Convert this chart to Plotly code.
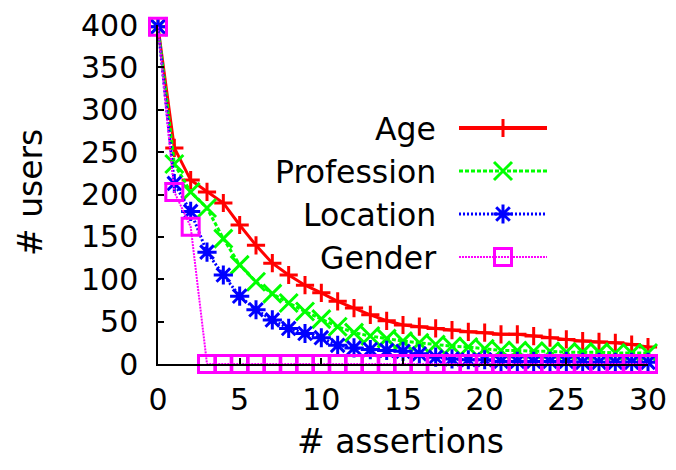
import plotly.graph_objects as go

# ---- data -------------------------------------------------------------
assertions = [0, 1, 2, 3, 4, 5, 6, 7, 8, 9, 10, 11, 12, 13, 14, 15,
              16, 17, 18, 19, 20, 21, 22, 23, 24, 25, 26, 27, 28, 29, 30]

age = [398, 255, 217, 203, 190, 164, 140, 119, 105, 93, 84, 74, 66, 58, 51, 46,
       44, 42, 40, 38, 37, 35, 35, 33, 31, 29, 27, 26, 25, 23, 20]
profession = [398, 236, 203, 184, 148, 117, 97, 83, 72, 62, 53, 44, 37, 33, 30, 27,
              25, 23, 21, 20, 18, 16, 16, 15, 15, 14, 14, 14, 13, 13, 13]
location = [398, 213, 180, 132, 105, 80, 64, 52, 42, 36, 31, 22, 19, 17, 16, 15,
            12, 8, 6, 5, 5, 3, 3, 3, 3, 3, 2, 2, 2, 2, 2]
gender = [398, 203, 162, 0, 0, 0, 0, 0, 0, 0, 0, 0, 0, 0, 0, 0,
          0, 0, 0, 0, 0, 0, 0, 0, 0, 0, 0, 0, 0, 0, 0]

series_names = ["Age", "Profession", "Location", "Gender"]
series_values = [age, profession, location, gender]

x_ticks = [0, 5, 10, 15, 20, 25, 30]
y_ticks = [0, 50, 100, 150, 200, 250, 300, 350, 400]

# ---- styling ----------------------------------------------------------
FONT = "DejaVu Sans"
styles = [
    dict(color="#ff0000", dash="solid", width=3, symbol="cross-thin", size=13, mlw=3),
    dict(color="#00ff00", dash="4px,2px", width=3, symbol="x-thin", size=18, mlw=3),
    dict(color="#0000ff", dash="2px,2px", width=3, symbol="asterisk", size=16, mlw=3),
    dict(color="#ff00ff", dash="2px,1px", width=2, symbol="square-open", size=17, mlw=3),
]

WIDTH, HEIGHT = 676, 470
M_L, M_R, M_T, M_B = 158, 28, 25, 106
PW = WIDTH - M_L - M_R
PH = HEIGHT - M_T - M_B


def px_x(px):
    return (px - M_L) / PW


def px_y(py):
    return (HEIGHT - M_B - py) / PH


fig = go.Figure()

for name, vals, st in zip(series_names, series_values, styles):
    fig.add_trace(go.Scatter(
        x=assertions, y=vals, name=name, mode="lines+markers",
        line=dict(color=st["color"], width=st["width"], dash=st["dash"]),
        marker=dict(symbol=st["symbol"], size=st["size"], color=st["color"],
                    line=dict(color=st["color"], width=st["mlw"])),
        cliponaxis=False, showlegend=False,
    ))

# ---- key (text on the left, sample line on the right) -----------------
key_rows = [128, 171, 214, 257]
key_text_right = 438
key_line = (459, 547)
key_marker = 503

annotations = []
for name, st, row in zip(series_names, styles, key_rows):
    fig.add_trace(go.Scatter(
        x=[px_x(key_line[0]), px_x(key_line[1])], y=[px_y(row), px_y(row)],
        xaxis="x2", yaxis="y2", mode="lines",
        line=dict(color=st["color"], width=st["width"] + (1 if st["dash"] == "solid" else 0),
                  dash=st["dash"]),
        showlegend=False, hoverinfo="skip", cliponaxis=False,
    ))
    fig.add_trace(go.Scatter(
        x=[px_x(key_marker)], y=[px_y(row)],
        xaxis="x2", yaxis="y2", mode="markers",
        marker=dict(symbol=st["symbol"], size=st["size"], color=st["color"],
                    line=dict(color=st["color"], width=st["mlw"])),
        showlegend=False, hoverinfo="skip", cliponaxis=False,
    ))
    annotations.append(dict(
        text=name, xref="paper", yref="paper",
        x=px_x(key_text_right), y=px_y(row + 1),
        xanchor="right", yanchor="middle", showarrow=False,
        font=dict(family=FONT, size=31.5, color="black"),
    ))

# axis titles
annotations.append(dict(
    text="# assertions", xref="paper", yref="paper",
    x=px_x(400), y=px_y(442), xanchor="center", yanchor="middle",
    showarrow=False, font=dict(family=FONT, size=33, color="black"),
))
annotations.append(dict(
    text="# users", xref="paper", yref="paper",
    x=px_x(30), y=px_y(193), xanchor="center", yanchor="middle",
    textangle=-90, showarrow=False,
    font=dict(family=FONT, size=33, color="black"),
))

axis_common = dict(
    showline=True, linecolor="black", linewidth=1.5,
    ticks="inside", ticklen=6, tickwidth=1.5, tickcolor="black",
    showgrid=False, zeroline=False, mirror=False, automargin=False,
    tickfont=dict(family=FONT, size=30, color="black"),
    layer="above traces",
)

fig.update_layout(
    template="none",
    width=WIDTH, height=HEIGHT, autosize=False,
    margin=dict(l=M_L, r=M_R, t=M_T, b=M_B, pad=0),
    paper_bgcolor="white", plot_bgcolor="white",
    showlegend=False,
    xaxis=dict(range=[0, 30], tickvals=x_ticks, ticklabelstandoff=8, **axis_common),
    yaxis=dict(range=[0, 400], tickvals=y_ticks, ticklabelstandoff=12, **axis_common),
    xaxis2=dict(overlaying="x", range=[0, 1], visible=False),
    yaxis2=dict(overlaying="y", range=[0, 1], visible=False),
    annotations=annotations,
)

fig.write_html("out.html")
